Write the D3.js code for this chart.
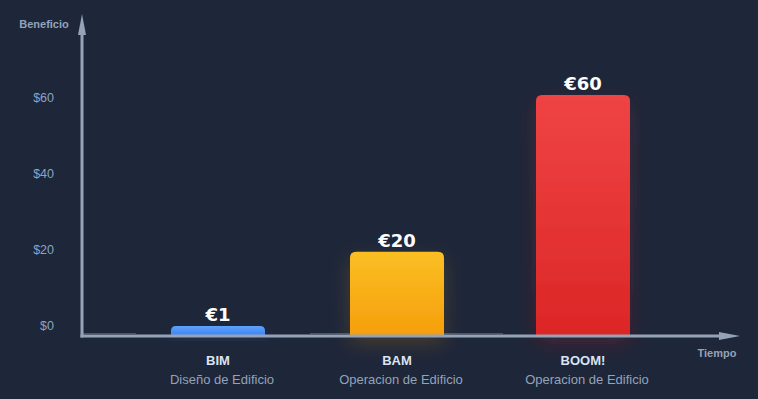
<!DOCTYPE html>
<html>
<head>
<meta charset="utf-8">
<script src="https://cdn.jsdelivr.net/npm/d3@7"></script>
<style>
  body { margin: 0; background: #1e2639; }
  svg { display: block; font-family: "Liberation Sans", Arial, sans-serif; }
</style>
</head>
<body>
<div id="chart"></div>
<script>
// chart data
var phases = ["BIM", "BAM", "BOOM!"];
var subtitles = ["Diseño de Edificio", "Operacion de Edificio", "Operacion de Edificio"];
var profits = [1, 20, 60];
var valueLabels = ["€1", "€20", "€60"];
var yTicks = [0, 20, 40, 60];

var barColors = [
  { top: "#5ea2fa", bottom: "#3b82f6" },
  { top: "#fbbf24", bottom: "#f59e0b" },
  { top: "#ef4444", bottom: "#dc2626" }
];

var width = 758,
  height = 399,
  originX = 82,
  baseY = 336;

var svg = d3
  .select("#chart")
  .append("svg")
  .attr("width", width)
  .attr("height", height);

svg.append("rect").attr("width", width).attr("height", height).attr("fill", "#1e2639");

var defs = svg.append("defs");

barColors.forEach(function (c, i) {
  var g = defs
    .append("linearGradient")
    .attr("id", "grad" + i)
    .attr("x1", 0).attr("y1", 0).attr("x2", 0).attr("y2", 1);
  g.append("stop").attr("offset", "0%").attr("stop-color", c.top);
  g.append("stop").attr("offset", "100%").attr("stop-color", c.bottom);
});

var glow = defs
  .append("filter")
  .attr("id", "glow")
  .attr("x", "-50%").attr("y", "-50%")
  .attr("width", "200%").attr("height", "200%");
glow.append("feGaussianBlur").attr("in", "SourceGraphic").attr("stdDeviation", 10).attr("result", "b");
glow.append("feOffset").attr("in", "b").attr("dy", 8).attr("result", "o");
glow.append("feComponentTransfer").attr("in", "o").attr("result", "f")
  .append("feFuncA").attr("type", "linear").attr("slope", 0.18);
var merge = glow.append("feMerge");
merge.append("feMergeNode").attr("in", "f");
merge.append("feMergeNode").attr("in", "SourceGraphic");

// scales
var x = d3.scaleOrdinal().domain(phases).range([218, 397, 583]);
var y = d3.scaleLinear().domain([0, 60]).range([330, 95]);
var yLabel = d3.scaleLinear().domain([0, 60]).range([326, 98]);
var barWidth = 94;

// y tick labels
svg
  .append("g")
  .selectAll("text")
  .data(yTicks)
  .enter()
  .append("text")
  .attr("x", 54)
  .attr("y", function (d) { return yLabel(d); })
  .attr("dy", "0.35em")
  .attr("text-anchor", "end")
  .attr("fill", "#8aa4c6")
  .style("font-size", "12.5px")
  .text(function (d) { return "$" + d; });

// faint baseline segments
var segs = [[83, 136], [310, 353], [441, 503]];
svg
  .append("g")
  .selectAll("line")
  .data(segs)
  .enter()
  .append("line")
  .attr("x1", function (d) { return d[0]; })
  .attr("x2", function (d) { return d[1]; })
  .attr("y1", baseY - 2.5)
  .attr("y2", baseY - 2.5)
  .attr("stroke", "#4b5568")
  .attr("stroke-width", 1);

// bars
var r = 6;
function barPath(d, i) {
  var x0 = x(phases[i]) - barWidth / 2,
    x1 = x0 + barWidth,
    top = Math.min(y(d), baseY - 10),
    rr = Math.min(r, (baseY - top) / 2);
  return (
    "M" + x0 + "," + baseY +
    "V" + (top + rr) +
    "Q" + x0 + "," + top + " " + (x0 + rr) + "," + top +
    "H" + (x1 - rr) +
    "Q" + x1 + "," + top + " " + x1 + "," + (top + rr) +
    "V" + baseY + "Z"
  );
}

svg
  .append("g")
  .selectAll("path")
  .data(profits)
  .enter()
  .append("path")
  .attr("d", barPath)
  .attr("fill", function (d, i) { return "url(#grad" + i + ")"; })
  .attr("filter", "url(#glow)");

// value labels
svg
  .append("g")
  .selectAll("text")
  .data(profits)
  .enter()
  .append("text")
  .attr("x", function (d, i) { return x(phases[i]); })
  .attr("y", function (d) { return Math.min(y(d), baseY - 10) - 5; })
  .attr("text-anchor", "middle")
  .attr("fill", "#ffffff")
  .style("font-family", "'DejaVu Sans', sans-serif")
  .style("font-size", "18px")
  .style("font-weight", "bold")
  .text(function (d, i) { return valueLabels[i]; });

// axes
var axisColor = "#94a3b8";
svg.append("line")
  .attr("x1", originX).attr("x2", originX)
  .attr("y1", baseY + 1.5).attr("y2", 30)
  .attr("stroke", axisColor).attr("stroke-width", 3);
svg.append("path")
  .attr("d", "M" + originX + ",14 L" + (originX + 4) + ",35 L" + (originX - 4) + ",35 Z")
  .attr("fill", axisColor);
svg.append("line")
  .attr("x1", originX - 1.5).attr("x2", 725)
  .attr("y1", baseY).attr("y2", baseY)
  .attr("stroke", axisColor).attr("stroke-width", 3);
svg.append("path")
  .attr("d", "M740," + baseY + " L719," + (baseY - 4) + " L719," + (baseY + 4) + " Z")
  .attr("fill", axisColor);

// axis titles
svg.append("text")
  .attr("x", 44).attr("y", 28)
  .attr("text-anchor", "middle")
  .attr("fill", axisColor)
  .style("font-size", "11px").style("font-weight", "bold")
  .text("Beneficio");
svg.append("text")
  .attr("x", 717).attr("y", 357)
  .attr("text-anchor", "middle")
  .attr("fill", axisColor)
  .style("font-size", "11px").style("font-weight", "bold")
  .text("Tiempo");

// category labels
var cat = svg.append("g")
  .selectAll("g")
  .data(phases)
  .enter()
  .append("g")
  .attr("transform", function (d) { return "translate(" + x(d) + ",0)"; });
cat.append("text")
  .attr("y", 365)
  .attr("text-anchor", "middle")
  .attr("fill", "#dbe4f0")
  .style("font-size", "13px").style("font-weight", "bold")
  .text(function (d) { return d; });
cat.append("text")
  .attr("x", 4)
  .attr("y", 384)
  .attr("text-anchor", "middle")
  .attr("fill", "#94a3b8")
  .style("font-size", "13px")
  .text(function (d, i) { return subtitles[i]; });
</script>
</body>
</html>
